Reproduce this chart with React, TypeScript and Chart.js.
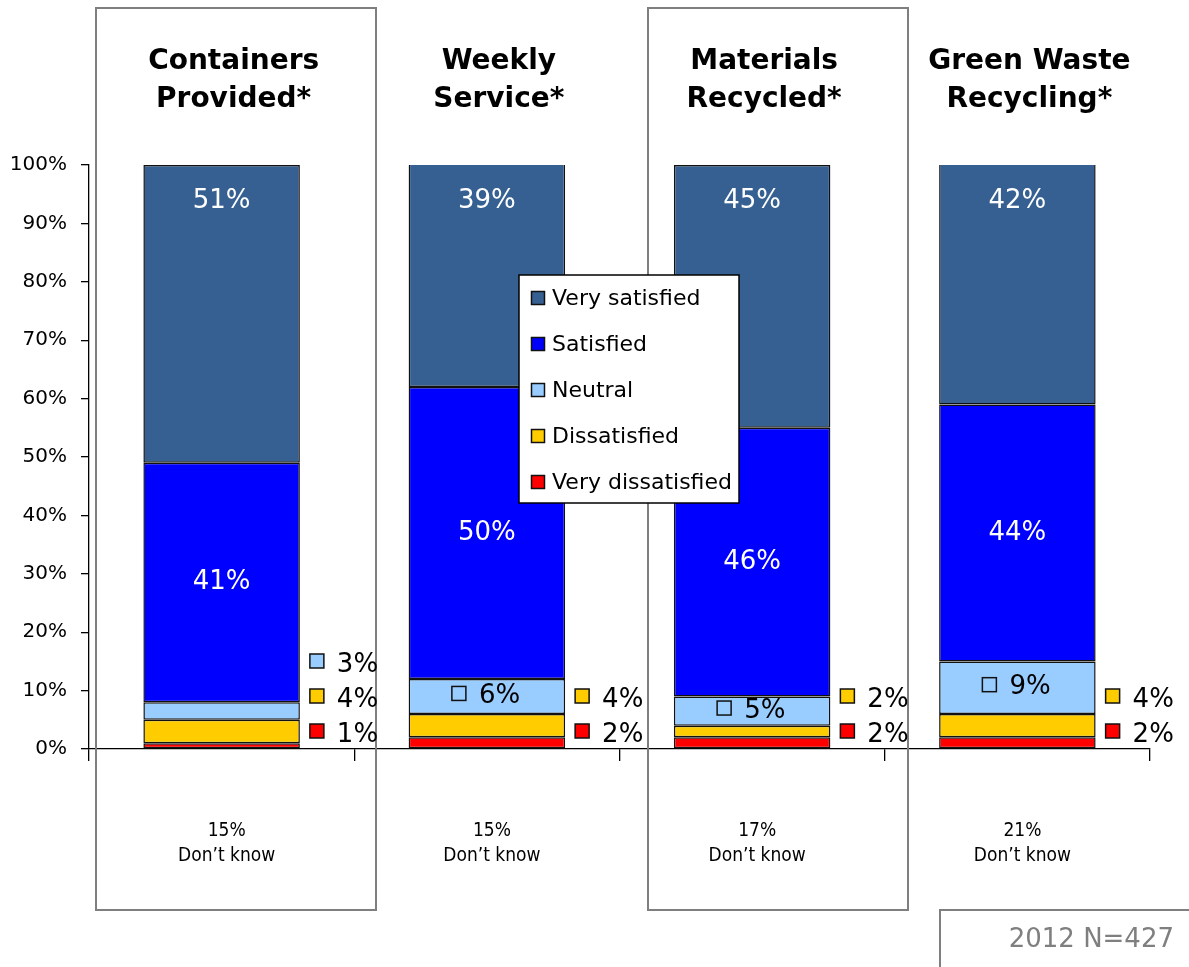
import React, { useEffect, useRef } from 'react';
import { Chart, registerables } from 'chart.js';

Chart.register(...registerables);

// ---------- data ----------
const categories = ['Containers Provided*', 'Weekly Service*', 'Materials Recycled*', 'Green Waste Recycling*'];
const titleLines = [
  ['Containers', 'Provided*'],
  ['Weekly', 'Service*'],
  ['Materials', 'Recycled*'],
  ['Green Waste', 'Recycling*'],
];
const seriesLabels = ['Very dissatisfied', 'Dissatisfied', 'Neutral', 'Satisfied', 'Very satisfied'];
const veryDissatisfied = [1, 2, 2, 2];
const dissatisfied = [4, 4, 2, 4];
const neutral = [3, 6, 5, 9];
const satisfied = [41, 50, 46, 44];
const verySatisfied = [51, 39, 45, 42];
const dontKnow = [15, 15, 17, 21];
const dontKnowLabel = 'Don\u2019t know';
const sampleNote = '2012 N=427';

// ---------- styles ----------
const seriesColors = ['#FF0000', '#FFCC00', '#99CCFF', '#0000FF', '#366092'];
const FONT = "'DejaVu Sans', Verdana, sans-serif";
const FONT_COND = "'DejaVu Sans Condensed', 'DejaVu Sans', sans-serif";
const BOX_GRAY = '#7f7f7f';
const W = 1189;
const H = 967;

const seriesValues = [veryDissatisfied, dissatisfied, neutral, satisfied, verySatisfied];

function square(ctx: CanvasRenderingContext2D, cx: number, cy: number, size: number, fill: string) {
  ctx.fillStyle = fill;
  ctx.fillRect(cx - size / 2, cy - size / 2, size, size);
  ctx.strokeStyle = '#111';
  ctx.lineWidth = 1.5;
  ctx.strokeRect(cx - size / 2, cy - size / 2, size, size);
}

const decorPlugin = {
  id: 'decor',
  beforeDatasetsDraw(chart: any) {
    const ctx: CanvasRenderingContext2D = chart.ctx;
    ctx.save();
    ctx.strokeStyle = BOX_GRAY;
    ctx.lineWidth = 2;
    // framed groups (1st and 3rd)
    ctx.strokeRect(96, 8, 280, 902);
    ctx.strokeRect(648, 8, 260, 902);
    // sample size box (left & top edges)
    ctx.beginPath();
    ctx.moveTo(940, H + 2);
    ctx.lineTo(940, 910);
    ctx.lineTo(W + 2, 910);
    ctx.stroke();
    ctx.restore();
  },
  afterDraw(chart: any) {
    const ctx: CanvasRenderingContext2D = chart.ctx;
    const xs = chart.scales.x;
    ctx.save();
    // titles
    ctx.fillStyle = '#000';
    ctx.textAlign = 'center';
    ctx.textBaseline = 'middle';
    ctx.font = `bold 28px ${FONT}`;
    categories.forEach((_, i) => {
      const cx = xs.getPixelForValue(i) + 12;
      titleLines[i].forEach((line, li) => {
        ctx.fillText(line, cx, 62 + li * 38);
      });
    });
    // don't know
    ctx.font = `19px ${FONT_COND}`;
    categories.forEach((_, i) => {
      const cx = xs.getPixelForValue(i) + 5;
      ctx.fillText(`${dontKnow[i]}%`, cx, 831);
      ctx.fillText(dontKnowLabel, cx, 856);
    });
    // sample note
    ctx.fillStyle = BOX_GRAY;
    ctx.font = `26px ${FONT}`;
    ctx.textAlign = 'right';
    ctx.fillText(sampleNote, 1174, 940);

    // legend
    const lx = 519, ly = 275, lw = 220, lh = 228;
    ctx.fillStyle = '#fff';
    ctx.fillRect(lx, ly, lw, lh);
    ctx.strokeStyle = '#000';
    ctx.lineWidth = 1.5;
    ctx.strokeRect(lx, ly, lw, lh);
    ctx.font = `22px ${FONT}`;
    ctx.textAlign = 'left';
    const order = [4, 3, 2, 1, 0];
    order.forEach((di, k) => {
      const cy = 298 + k * 46;
      square(ctx, 538, cy, 13, seriesColors[di]);
      ctx.fillStyle = '#000';
      ctx.fillText(seriesLabels[di], 552, cy + 1);
    });
    ctx.restore();
  },
  afterDatasetsDraw(chart: any) {
    const ctx: CanvasRenderingContext2D = chart.ctx;
    const area = chart.chartArea;
    ctx.save();
    ctx.textBaseline = 'middle';
    categories.forEach((_, i) => {
      const outside: { di: number; center: number; right: number }[] = [];
      chart.data.datasets.forEach((ds: any, di: number) => {
        const bar = chart.getDatasetMeta(di).data[i];
        const { x, y, base, width } = bar.getProps(['x', 'y', 'base', 'width'], true);
        const v = ds.data[i];
        const top = Math.max(y, area.top);
        const center = (top + base) / 2;
        if (di === 4) {
          ctx.fillStyle = '#fff';
          ctx.font = `26px ${FONT}`;
          ctx.textAlign = 'center';
          ctx.fillText(`${v}%`, x, top + 36);
        } else if (di === 3) {
          ctx.fillStyle = '#fff';
          ctx.font = `26px ${FONT}`;
          ctx.textAlign = 'center';
          ctx.fillText(`${v}%`, x, center);
        } else if (v >= 5) {
          square(ctx, x - 28, center - 3, 14, seriesColors[di]);
          ctx.fillStyle = '#000';
          ctx.font = `26px ${FONT}`;
          ctx.textAlign = 'left';
          ctx.fillText(`${v}%`, x - 8, center);
        } else {
          outside.push({ di, center, right: x + width / 2 });
        }
      });
      let prev = Infinity;
      outside.forEach((o) => {
        const cy = Math.min(o.center, 735, prev - 35);
        prev = cy;
        const mx = o.right + 17;
        square(ctx, mx, cy - 4, 14, seriesColors[o.di]);
        ctx.fillStyle = '#000';
        ctx.font = `26px ${FONT}`;
        ctx.textAlign = 'left';
        ctx.fillText(`${chart.data.datasets[o.di].data[i]}%`, mx + 20, cy);
      });
    });
    ctx.restore();
  },
};

export default function App() {
  const ref = useRef<HTMLCanvasElement | null>(null);

  useEffect(() => {
    if (!ref.current) return;
    document.body.style.margin = '0';
    const chart = new Chart(ref.current, {
      type: 'bar',
      data: {
        labels: categories,
        datasets: seriesLabels.map((label, di) => ({
          label,
          data: seriesValues[di],
          backgroundColor: seriesColors[di],
          borderColor: '#111',
          borderWidth: 1.5,
          borderSkipped: false,
          barPercentage: 0.59,
          categoryPercentage: 1,
        })),
      },
      options: {
        responsive: false,
        animation: false,
        devicePixelRatio: 1,
        layout: { padding: { top: 165, right: 39, left: 0, bottom: 0 } },
        plugins: {
          legend: { display: false },
          tooltip: { enabled: false },
          title: { display: false },
        },
        scales: {
          x: {
            stacked: true,
            offset: true,
            grid: {
              display: true,
              offset: true,
              drawOnChartArea: false,
              drawTicks: true,
              tickLength: 12,
              color: '#000',
              lineWidth: 1.3,
            },
            border: { display: true, color: '#000', width: 1.3 },
            ticks: { display: true, callback: () => '' },
            afterFit: (s: any) => {
              s.height = 218;
            },
          },
          y: {
            stacked: true,
            min: 0,
            max: 100,
            ticks: {
              stepSize: 10,
              color: '#000',
              padding: 14,
              font: { family: FONT, size: 20 },
              callback: (v: any) => `${v}%`,
            },
            grid: {
              display: true,
              drawOnChartArea: false,
              drawTicks: true,
              tickLength: 8,
              color: '#000',
              lineWidth: 1.3,
            },
            border: { display: true, color: '#000', width: 1.3 },
            afterFit: (s: any) => {
              s.width = 89;
            },
          },
        },
      },
      plugins: [decorPlugin],
    });
    return () => chart.destroy();
  }, []);

  return (
    <div style={{ position: 'absolute', left: 0, top: 0, width: W, height: H, background: '#fff' }}>
      <canvas ref={ref} width={W} height={H} style={{ display: 'block' }} />
    </div>
  );
}
